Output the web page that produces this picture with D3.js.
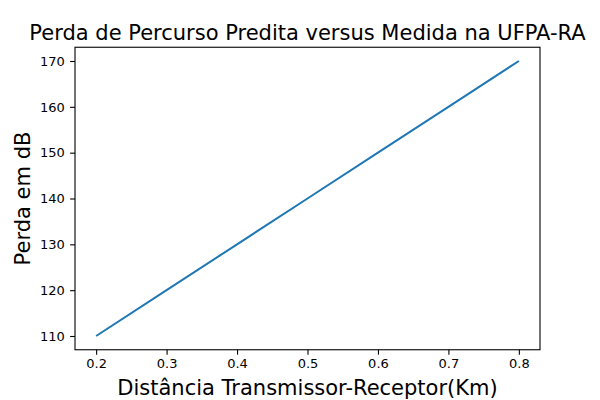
<!DOCTYPE html>
<html><head><meta charset="utf-8">
<script src="https://cdn.jsdelivr.net/npm/d3@7"></script>
<style>body{margin:0;background:#fff}svg{display:block}text{font-family:"DejaVu Sans",sans-serif}</style>
</head><body>
<script>
const distances = [0.2, 0.3, 0.4, 0.5, 0.6, 0.7, 0.8];
const losses = [110, 120, 130, 140, 150, 160, 170];
const xTicks = [0.2, 0.3, 0.4, 0.5, 0.6, 0.7, 0.8];
const yTicks = [110, 120, 130, 140, 150, 160, 170];
const title = "Perda de Percurso Predita versus Medida na UFPA-RA";
const xLabel = "Distância Transmissor-Receptor(Km)";
const yLabel = "Perda em dB";

const W = 600, H = 400;
const m = {left: 75, right: 60, top: 47.25, bottom: 50.25};
const svg = d3.select("body").append("svg").attr("width", W).attr("height", H);
const x = d3.scaleLinear().domain([0.17, 0.83]).range([m.left, W - m.right]);
const y = d3.scaleLinear().domain([107, 173]).range([H - m.bottom, m.top]);

const xa = svg.append("g").attr("transform", `translate(0,${H - m.bottom})`)
  .call(d3.axisBottom(x).tickValues(xTicks).tickFormat(d3.format(".1f")).tickSize(4.9).tickPadding(4.5));
const ya = svg.append("g").attr("transform", `translate(${m.left},0)`)
  .call(d3.axisLeft(y).tickValues(yTicks).tickFormat(d3.format("d")).tickSize(4.9).tickPadding(5.2));
[xa, ya].forEach(a => {
  a.select(".domain").remove();
  a.selectAll("text").attr("font-size", 13).attr("font-family", "DejaVu Sans").attr("fill", "#000");
  a.selectAll("line").attr("stroke", "#000").attr("stroke-width", 1.1);
});

svg.append("path").datum(distances.map((d, i) => [d, losses[i]]))
  .attr("fill", "none").attr("stroke", "#1f77b4").attr("stroke-width", 2)
  .attr("d", d3.line().x(d => x(d[0])).y(d => y(d[1])));

svg.append("rect").attr("x", m.left).attr("y", m.top)
  .attr("width", W - m.right - m.left).attr("height", H - m.bottom - m.top)
  .attr("fill", "none").attr("stroke", "#000").attr("stroke-width", 1.1);

svg.append("text").attr("x", (m.left + W - m.right) / 2).attr("y", 40)
  .attr("text-anchor", "middle").attr("font-size", 21).text(title);
svg.append("text").attr("x", (m.left + W - m.right) / 2).attr("y", 395)
  .attr("text-anchor", "middle").attr("font-size", 21).text(xLabel);
svg.append("text").attr("transform", `translate(30,${(m.top + H - m.bottom) / 2}) rotate(-90)`)
  .attr("text-anchor", "middle").attr("font-size", 21).text(yLabel);
</script>
</body></html>
